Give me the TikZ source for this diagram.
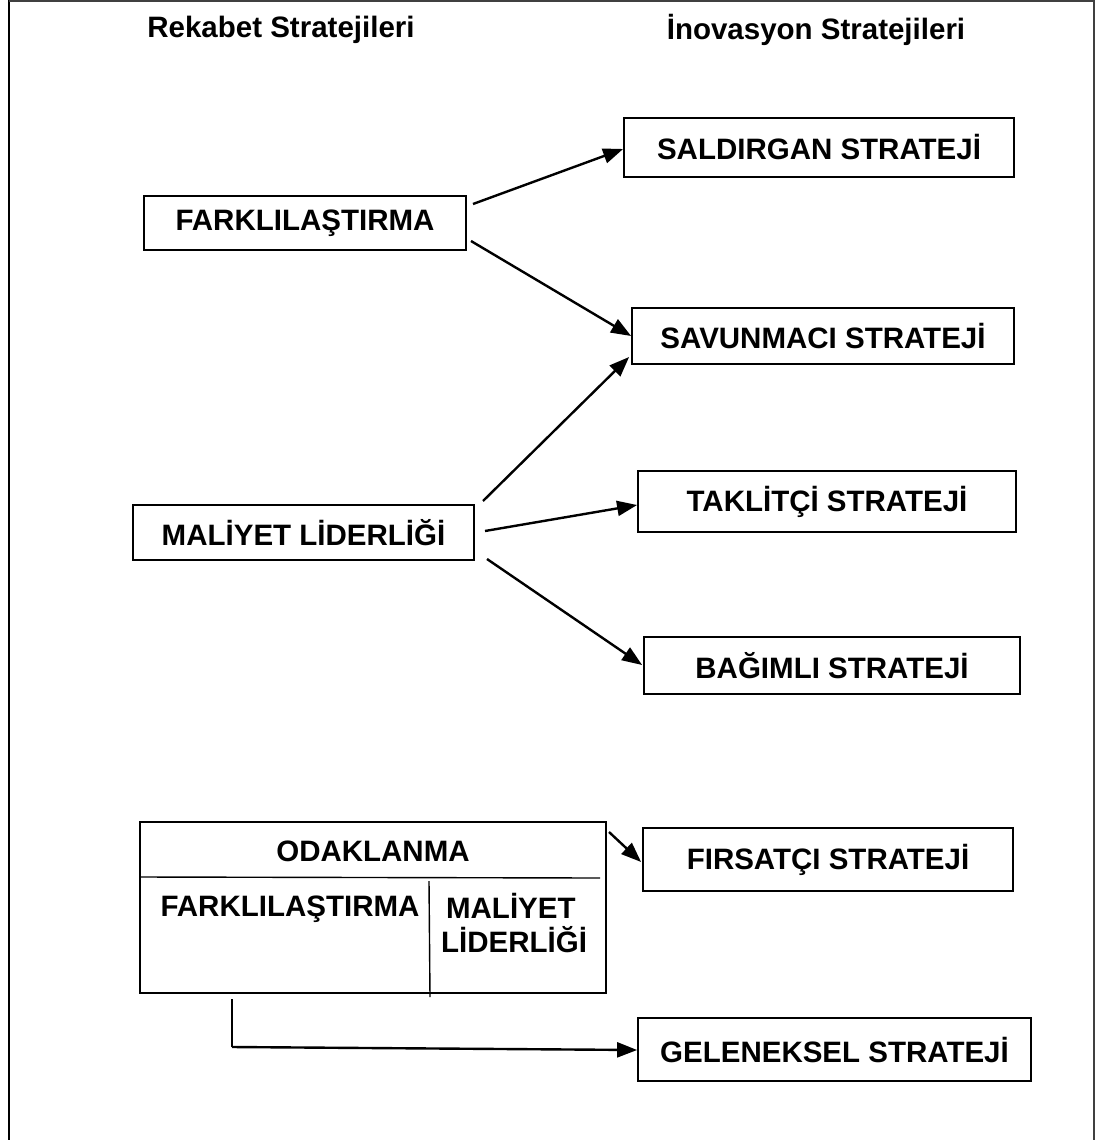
\documentclass[tikz,border=0pt]{standalone}
\usepackage{fontspec}
\setmainfont{Liberation Sans}
\usetikzlibrary{arrows.meta}
\begin{document}
\begin{tikzpicture}[x=1pt,y=-1pt,
  lbl/.style={font=\fontsize{29.5}{34}\selectfont\bfseries},
  box/.style={draw=black,line width=1.8pt,rectangle,inner sep=0pt,lbl},
  arr/.style={line width=2.4pt,-{Triangle[length=20pt,width=15pt]}},
  ln/.style={line width=1.4pt}]
\useasboundingbox (0,0) rectangle (1096,1140);
% outer frame
\draw[line width=2.4pt] (9,0) -- (9,1140);
\draw[line width=1.6pt,black!75] (9,1) -- (1094,1) -- (1094,1140);
% titles
\node[lbl] (t1) at (281,30) {Rekabet Stratejileri};
\node[lbl] (t2) at (816,30) {İnovasyon Stratejileri};
% left boxes
\node[box,minimum width=322pt,minimum height=54pt] (fark) at (305,223) {FARKLILAŞTIRMA};
\node[box,minimum width=341pt,minimum height=55pt] (mali) at (303.5,532.5) {MALİYET LİDERLİĞİ};
% right boxes
\node[box,minimum width=390pt,minimum height=59pt] (sald) at (819,147.5) {SALDIRGAN STRATEJİ};
\node[box,minimum width=382pt,minimum height=56pt] (savu) at (823,336) {SAVUNMACI STRATEJİ};
\node[box,minimum width=378pt,minimum height=61pt] (takl) at (827,501.5) {TAKLİTÇİ STRATEJİ};
\node[box,minimum width=376pt,minimum height=57pt] (bagi) at (832,665.5) {BAĞIMLI STRATEJİ};
\node[box,minimum width=370pt,minimum height=63pt] (firs) at (828,859.5) {FIRSATÇI STRATEJİ};
\node[box,minimum width=393pt,minimum height=63pt] (gele) at (834.5,1049.5) {GELENEKSEL STRATEJİ};
% focus box
\node[draw=black,line width=1.5pt,rectangle,minimum width=466pt,minimum height=171pt,inner sep=0pt] (odak) at (373,907.5) {};
\draw[ln] (odak.west |- 0,877) -- (600,878);
\draw[ln] (429,881) -- (430,997);
\node[lbl] (odt) at (373,851) {ODAKLANMA};
\node[lbl] (odf) at (290,909) {FARKLILAŞTIRMA};
\node[lbl,anchor=west,align=left,inner sep=0pt] (odm) at (441,923) {\,MALİYET\\LİDERLİĞİ};
% connector start points
\coordinate (f1) at (473,204);
\coordinate (f2) at (471,241);
\coordinate (m1) at (483,501);
\coordinate (m2) at (485,531);
\coordinate (m3) at (487,559);
\coordinate (o1) at (609,832);
\coordinate (g0) at (232,999);
\coordinate (g1) at (232,1047);
% arrows
\draw[arr] (f1) -- ([yshift=-1.5pt]sald.west);
\draw[arr] (f2) -- (savu.west);
\draw[arr] (m1) -- ([xshift=-2pt,yshift=-21pt]savu.west);
\draw[arr] (m2) -- ([yshift=-3.5pt]takl.west);
\draw[arr] (m3) -- ([xshift=-1pt,yshift=0.5pt]bagi.west);
\draw[arr] (o1) -- ([xshift=-1pt,yshift=-2.5pt]firs.west);
\draw[ln] (g0) -- (g1);
\draw[arr] (g1) -- ([yshift=-0.5pt]gele.west);
\end{tikzpicture}
\end{document}
